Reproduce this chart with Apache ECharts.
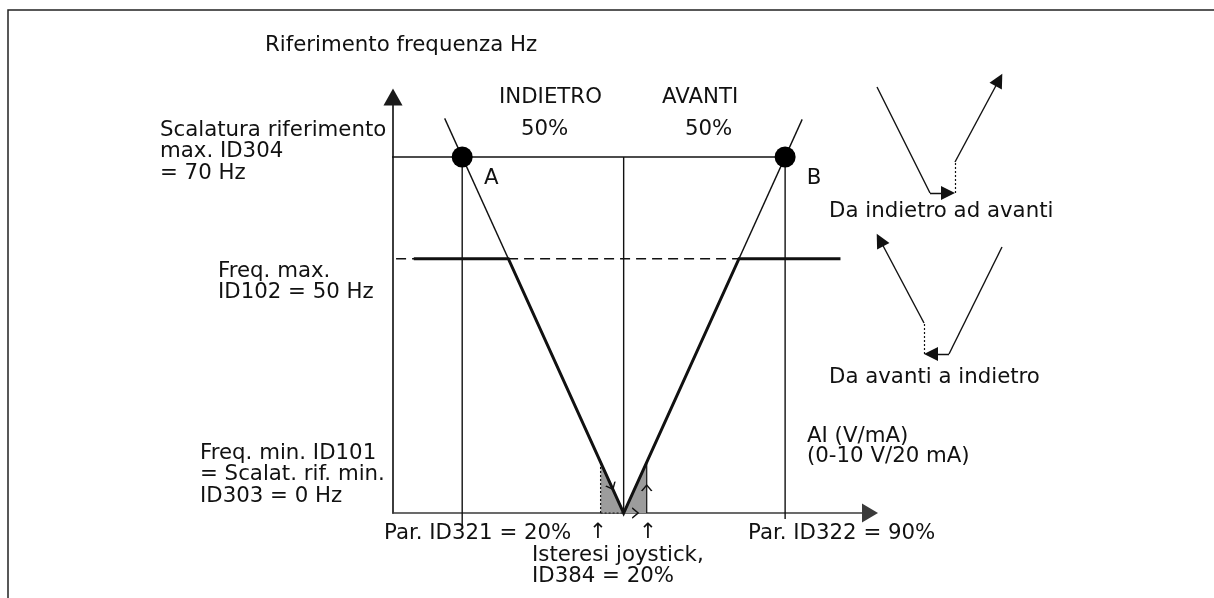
<!DOCTYPE html>
<html>
<head>
<meta charset="utf-8">
<script src="https://cdn.jsdelivr.net/npm/echarts@6/dist/echarts.min.js"></script>
<style>
  html, body { margin: 0; padding: 0; background: #ffffff; }
  #chart { width: 1214px; height: 598px; }
</style>
</head>
<body>
<div id="chart"></div>
<script>
// x: analog input in % of range, y: frequency reference in Hz
const pointsAB = [[20, 70], [90, 70]];            // ID321 = 20 %, ID322 = 90 %, at ID304 = 70 Hz
const pointNames = ['A', 'B'];
const refMaxLine = [[0, 70], [90, 70]];           // reference scaling max (ID304)
const rampBackward = [[16.2, 77.6], [55, 0]];     // INDIETRO ramp through A
const rampForward = [[55, 0], [93.7, 77.4]];      // AVANTI ramp through B
const freqMaxDashed = [[2.2, 50], [80, 50]];      // ID102 = 50 Hz
const outputCurve = [[9.5, 50], [30, 50], [55, 0], [80, 50], [102, 50]];
const dropLines = [
  [[20, 70], [20, -2.4]],
  [[55, 70], [55, 0]],
  [[90, 70], [90, -1.2]]
];
const hystBackArea = [[50, 10], [55, 0]];         // joystick hysteresis, backward side
const hystFwdArea = [[55, 0], [60, 10]];          // joystick hysteresis, forward side
const hystBackEdges = [[[50, 0], [50, 10]], [[50, 0], [55, 0]]];
const hystFwdEdge = [[60, 0], [60, 10]];
const hystMarkers = [[52.4, 5.2], [57.5, 0], [60, 4.9]];
const hystMarkerAngles = [-65, 0, 90];

// small direction-change sketches
const sketchPlain = [
  [[17, 283], [70, 177]],
  [[142, 123], [89, 16]]
];
const sketchArrows = [
  [[70, 177], [88, 177]],
  [[95, 208], [139, 290]],
  [[89, 16], [71, 16]],
  [[64, 47], [20, 130]]
];
const sketchDotted = [
  [[95, 177], [95, 208]],
  [[64, 16], [64, 47]]
];

const FONT = '"DejaVu Sans", Verdana, sans-serif';
const FS = 21.3;
const INK = '#111111';

function txt(text, x, yCenter, lh, align) {
  lh = lh || 21.5;
  return {
    type: 'text', x: x, y: yCenter - lh / 2, z: 20,
    style: {
      text: text, font: FS + 'px ' + FONT, fill: INK,
      lineHeight: lh, verticalAlign: 'top', align: align || 'left'
    }
  };
}

function thin(data, extra) {
  return Object.assign({
    type: 'line', data: data, symbol: 'none', clip: false, silent: true,
    lineStyle: { color: INK, width: 1.4 }, z: 5
  }, extra || {});
}

const chart = echarts.init(document.getElementById('chart'), null, { renderer: 'canvas' });

const hidden = { show: false };
const option = {
  animation: false,
  backgroundColor: '#ffffff',
  grid: [
    { left: 393, top: 97, width: 477, height: 416 },
    { left: 860, top: 60, width: 160, height: 310 }
  ],
  xAxis: [
    {
      type: 'value', min: 5, max: 108.4, gridIndex: 0,
      axisLine: { show: true, symbol: ['none', 'triangle'], symbolSize: [19, 16],
        lineStyle: { color: '#3a3a3a', width: 1.7 } },
      axisTick: hidden, axisLabel: hidden, splitLine: hidden
    },
    { type: 'value', min: 0, max: 160, gridIndex: 1, show: false }
  ],
  yAxis: [
    {
      type: 'value', min: 0, max: 81.8, gridIndex: 0,
      axisLine: { show: true, symbol: ['none', 'triangle'], symbolSize: [19, 17],
        lineStyle: { color: '#1a1a1a', width: 1.7 } },
      axisTick: hidden, axisLabel: hidden, splitLine: hidden
    },
    { type: 'value', min: 0, max: 310, gridIndex: 1, show: false }
  ],
  series: [
    thin(hystBackArea, { lineStyle: { width: 0 }, areaStyle: { color: '#9c9c9c', opacity: 1 }, z: 2 }),
    thin(hystFwdArea, { lineStyle: { width: 0 }, areaStyle: { color: '#9c9c9c', opacity: 1 }, z: 2 }),
    ...hystBackEdges.map(d => thin(d, { lineStyle: { color: INK, width: 1.2, type: [2, 2] }, z: 3 })),
    thin(hystFwdEdge, { lineStyle: { color: INK, width: 1.2 }, z: 3 }),
    thin(freqMaxDashed, { lineStyle: { color: INK, width: 1.4, type: [10, 6] } }),
    thin(refMaxLine),
    thin(rampBackward),
    thin(rampForward),
    ...dropLines.map(d => thin(d)),
    thin(outputCurve, { lineStyle: { color: INK, width: 3, join: 'miter' }, z: 6 }),
    {
      type: 'scatter', data: pointsAB, symbolSize: 21, silent: true, z: 8,
      itemStyle: { color: '#000000', opacity: 1 },
      label: {
        show: true, formatter: p => pointNames[p.dataIndex], position: 'inside',
        offset: [29, 21], color: INK, fontSize: FS, fontFamily: FONT
      }
    },
    {
      type: 'scatter', silent: true, z: 9,
      data: hystMarkers.map((p, i) => ({ value: p, symbolRotate: hystMarkerAngles[i] })),
      symbol: 'path://M0,0L8,6L0,12', symbolSize: [6, 10],
      itemStyle: { color: 'rgba(0,0,0,0)', borderColor: INK, borderWidth: 1.3, opacity: 1 }
    },
    {
      type: 'lines', coordinateSystem: 'cartesian2d', xAxisIndex: 1, yAxisIndex: 1,
      silent: true, symbol: ['none', 'none'],
      lineStyle: { color: INK, width: 1.4, opacity: 1, curveness: 0 },
      data: sketchPlain.map(c => ({ coords: c }))
    },
    {
      type: 'lines', coordinateSystem: 'cartesian2d', xAxisIndex: 1, yAxisIndex: 1,
      silent: true, symbol: ['none', 'triangle'], symbolSize: 14,
      lineStyle: { color: INK, width: 1.4, opacity: 1, curveness: 0 },
      data: sketchArrows.map(c => ({ coords: c }))
    },
    {
      type: 'lines', coordinateSystem: 'cartesian2d', xAxisIndex: 1, yAxisIndex: 1,
      silent: true, symbol: ['none', 'none'],
      lineStyle: { color: INK, width: 1.2, opacity: 1, type: [2, 2], curveness: 0 },
      data: sketchDotted.map(c => ({ coords: c }))
    }
  ],
  graphic: [
    {
      type: 'polyline', z: 1, silent: true,
      shape: { points: [[8, 598], [8, 10], [1214, 10]] },
      style: { stroke: '#222222', lineWidth: 1.5, fill: null }
    },
    txt('Riferimento frequenza Hz', 265, 45),
    txt('Scalatura riferimento\nmax. ID304\n= 70 Hz', 160, 130),
    txt('INDIETRO', 499, 97),
    txt('50%', 521, 129),
    txt('AVANTI', 662, 97),
    txt('50%', 685, 129),
    txt('Freq. max.\nID102 = 50 Hz', 218, 271, 21),
    txt('Freq. min. ID101\n= Scalat. rif. min.\nID303 = 0 Hz', 200, 453, 21.8),
    txt('AI (V/mA)\n(0-10 V/20 mA)', 807, 436, 20.7),
    txt('Par. ID321 = 20%', 384, 533),
    txt('\u2191', 598, 532, 21.5, 'center'),
    txt('\u2191', 648, 532, 21.5, 'center'),
    txt('Par. ID322 = 90%', 748, 533),
    txt('Isteresi joystick,\nID384 = 20%', 532, 555, 21),
    txt('Da indietro ad avanti', 829, 211),
    txt('Da avanti a indietro', 829, 377)
  ]
};

chart.setOption(option);
</script>
</body>
</html>
